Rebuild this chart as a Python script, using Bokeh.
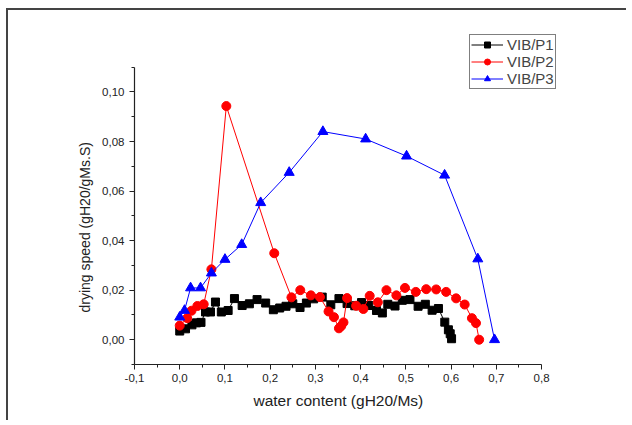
from bokeh.plotting import figure
from bokeh.models import FixedTicker, CustomJSTickFormatter, Legend, Title
from bokeh.embed import file_html
from bokeh.resources import INLINE

# VIB/P1 (black squares)
p1_x = [0.000, 0.0128, 0.027, 0.037, 0.047, 0.057, 0.068, 0.079, 0.092, 0.107, 0.121, 0.138,
        0.154, 0.171, 0.190, 0.207, 0.221, 0.235, 0.250, 0.266, 0.280, 0.296, 0.315, 0.334,
        0.352, 0.370, 0.387, 0.402, 0.418, 0.435, 0.448, 0.460, 0.476, 0.492, 0.509, 0.527,
        0.543, 0.558, 0.572, 0.586, 0.594, 0.598, 0.601]
p1_y = [0.0035, 0.0044, 0.0060, 0.0068, 0.0070, 0.0112, 0.0112, 0.0152, 0.0112, 0.0118, 0.0166, 0.0138,
        0.0145, 0.0162, 0.0148, 0.0121, 0.0128, 0.0135, 0.0145, 0.0130, 0.0148, 0.0165, 0.0172, 0.0141,
        0.0166, 0.0146, 0.0137, 0.0150, 0.0138, 0.0118, 0.0108, 0.0143, 0.0136, 0.0159, 0.0162, 0.0135,
        0.0143, 0.0119, 0.0126, 0.0071, 0.0040, 0.0024, 0.0004]

# VIB/P2 (red circles)
p2_x = [0.000, 0.0165, 0.026, 0.039, 0.053, 0.070, 0.103, 0.209, 0.247, 0.2665, 0.290, 0.310,
        0.329, 0.341, 0.352, 0.357, 0.362, 0.370, 0.390, 0.406, 0.420, 0.438, 0.457, 0.479,
        0.498, 0.522, 0.545, 0.567, 0.589, 0.611, 0.630, 0.646, 0.655, 0.662]
p2_y = [0.0057, 0.0087, 0.0117, 0.0136, 0.0143, 0.0284, 0.0943, 0.0349, 0.0171, 0.0200, 0.0179, 0.0172,
        0.0114, 0.0091, 0.0046, 0.0055, 0.0070, 0.0168, 0.0137, 0.0124, 0.0177, 0.0151, 0.0200, 0.0179,
        0.0209, 0.0193, 0.0204, 0.0203, 0.0193, 0.0167, 0.0142, 0.0087, 0.0067, 0.0000]

# VIB/P3 (blue triangles)
p3_x = [0.000, 0.0106, 0.024, 0.046, 0.070, 0.100, 0.137, 0.179, 0.242, 0.3165, 0.411, 0.5015,
        0.5856, 0.659, 0.696]
p3_y = [0.0091, 0.0118, 0.0209, 0.0209, 0.0269, 0.0324, 0.0384, 0.0553, 0.0675, 0.0840, 0.0810, 0.0741,
        0.0664, 0.0326, 0.0000]

x_ticks = [-0.1, 0.0, 0.1, 0.2, 0.3, 0.4, 0.5, 0.6, 0.7, 0.8]
x_minor = [-0.05, 0.05, 0.15, 0.25, 0.35, 0.45, 0.55, 0.65, 0.75]
y_ticks = [0.0, 0.02, 0.04, 0.06, 0.08, 0.10]
y_minor = [-0.01, 0.01, 0.03, 0.05, 0.07, 0.09, 0.11]

FONT = "Liberation Sans"

# frame is extended beyond the axes (axes use bounds) so the legend is not clipped
p = figure(width=624, height=412, x_range=(-0.1, 0.917), y_range=(-0.01, 0.1248),
           output_backend="svg", toolbar_location=None,
           min_border_left=126, min_border_right=38, min_border_top=20, min_border_bottom=58)
p.styles = {"border-left": "2px solid #444", "border-top": "2px solid #444",
            "margin-left": "6px", "margin-top": "8px",
            "clip-path": "inset(0px 4px 0px 0px)"}
p.outline_line_color = None
p.xgrid.visible = False
p.ygrid.visible = False
p.background_fill_color = "white"
p.border_fill_color = "white"

series = [
    (p1_x, p1_y, "black", "square", 8, "VIB/P1"),
    (p2_x, p2_y, "#FF0000", "circle", 9, "VIB/P2"),
    (p3_x, p3_y, "#0000FF", "triangle", 10, "VIB/P3"),
]
items = []
for xs, ys, col, mk, sz, lab in series:
    l = p.line(xs, ys, line_color=col, line_width=1)
    s = p.scatter(xs, ys, marker=mk, size=sz, fill_color=col, line_color=col)
    items.append((lab, [l, s]))

legend = Legend(items=items, location=(335, 275), margin=0, padding=1, spacing=0,
                label_standoff=4, glyph_width=32, glyph_height=15, label_height=15,
                label_text_font=FONT, label_text_font_size="15px",
                border_line_color="black", border_line_width=1, background_fill_alpha=1)
p.add_layout(legend, "center")

p.xaxis.bounds = (-0.1, 0.8)
p.yaxis.bounds = (-0.01, 0.11)
p.xaxis.ticker = FixedTicker(ticks=x_ticks, minor_ticks=x_minor)
p.yaxis.ticker = FixedTicker(ticks=y_ticks, minor_ticks=y_minor)
p.xaxis.formatter = CustomJSTickFormatter(code="var v = Math.abs(tick) < 1e-9 ? 0 : tick; return v.toFixed(1).replace('.', ',');")
p.yaxis.formatter = CustomJSTickFormatter(code="var v = Math.abs(tick) < 1e-9 ? 0 : tick; return v.toFixed(2).replace('.', ',');")

for ax in (p.xaxis, p.yaxis):
    ax.major_label_text_font = FONT
    ax.major_label_text_font_size = "11.5px"
    ax.major_label_text_color = "#222222"
    ax.axis_line_color = "#222222"
    ax.axis_line_width = 1.2
    ax.major_tick_line_color = "#222222"
    ax.minor_tick_line_color = "#222222"
    ax.major_tick_out = 5
    ax.major_tick_in = 0
    ax.minor_tick_out = 3
    ax.minor_tick_in = 0
p.xaxis.major_label_standoff = 4
p.yaxis.major_label_standoff = 5

# axis titles placed as side titles so they centre on the axis span, not the wider frame
xt = Title(text="water content (gH20/Ms)", align="left", offset=112, vertical_align="top",
           standoff=0, padding=7, text_font=FONT, text_font_size="15.5px", text_font_style="normal",
           text_color="#222222")
p.add_layout(xt, "below")
yt = Title(text="drying speed (gH20/gMs.S)", align="left", offset=45, vertical_align="bottom",
           standoff=0, padding=7, text_font=FONT, text_font_size="14px", text_font_style="normal",
           text_color="#222222")
p.add_layout(yt, "left")

open("out.html", "w").write(file_html(p, INLINE))
